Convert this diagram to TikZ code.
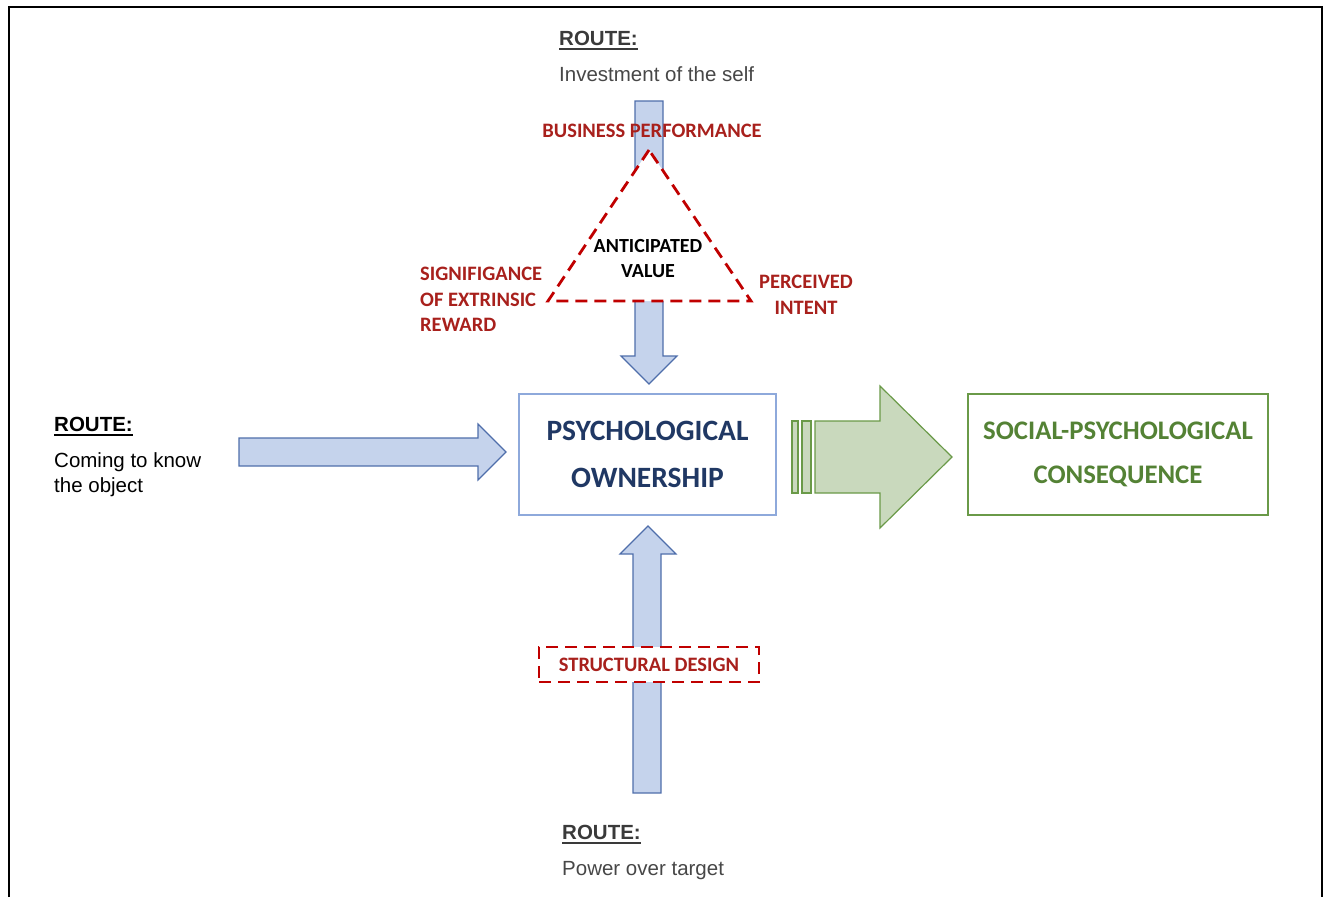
\documentclass[tikz,border=0pt]{standalone}
\usepackage{fontspec}
\setmainfont{Carlito}
\newfontfamily\arialf{Liberation Sans}
\definecolor{arrowfill}{HTML}{C5D3EC}
\definecolor{arrowline}{HTML}{4F6EAB}
\definecolor{boxblue}{HTML}{8EA9DB}
\definecolor{navy}{HTML}{203864}
\definecolor{redtxt}{HTML}{A8201C}
\definecolor{reddash}{HTML}{C00000}
\definecolor{greentxt}{HTML}{548235}
\definecolor{greenline}{HTML}{6A9A48}
\definecolor{greenfill}{HTML}{C9D9BD}
\definecolor{routegray}{HTML}{3A3A3A}
\begin{document}
\begin{tikzpicture}[x=1pt,y=-1pt,
  routehd/.style={font=\arialf\bfseries\fontsize{20.5}{24}\selectfont, anchor=base west, inner sep=0pt},
  routetx/.style={font=\arialf\fontsize{20.5}{25}\selectfont, anchor=base west, inner sep=0pt},
  redlbl/.style={font=\bfseries\fontsize{20.5}{25.5}\selectfont, text=redtxt, inner sep=0pt},
  blockarrow/.style={fill=arrowfill, draw=arrowline, line width=1.2pt, line join=miter},
  greenarrow/.style={fill=greenfill, draw=greenline, line width=1.2pt, line join=miter},
  reddashed/.style={draw=reddash, line width=2.8pt, dash pattern=on 12pt off 7pt},
  ulinestyle/.style={line width=1.8pt}
]
\useasboundingbox (0,0) rectangle (1325,897);
% frame
\draw[line width=2.2pt, black] (9,897) -- (9,7) -- (1322,7) -- (1322,897);

% top route
\node[routehd, text=routegray] (rt) at (559,45) {ROUTE:};
\draw[ulinestyle, routegray] ([yshift=-4pt]rt.base west) -- ([yshift=-4pt]rt.base east);
\node[routetx, text=black!72] (rti) at (559,81) {Investment of the self};

% left route
\node[routehd] (rl) at (54,431) {ROUTE:};
\draw[ulinestyle] ([yshift=-4pt]rl.base west) -- ([yshift=-4pt]rl.base east);
\node[routetx] (rli1) at (54,467) {Coming to know};
\node[routetx] (rli2) at (54,492) {the object};

% bottom route
\node[routehd, text=routegray] (rb) at (562,839) {ROUTE:};
\draw[ulinestyle, routegray] ([yshift=-4pt]rb.base west) -- ([yshift=-4pt]rb.base east);
\node[routetx, text=black!72] (rbi) at (562,875) {Power over target};

% top down arrow
\draw[blockarrow] (635,101) -- (663,101) -- (663,356) -- (677,356) -- (649,384) -- (621,356) -- (635,356) -- cycle;
% triangle
\coordinate (apex) at (649,150);
\coordinate (bl) at (548,301);
\coordinate (br) at (751,301);
\filldraw[fill=white, reddashed] (apex) -- (bl) -- (br) -- cycle;
\node[redlbl] (bp) at (652,131) {BUSINESS PERFORMANCE};
\node[font=\bfseries\fontsize{20}{25}\selectfont, align=center, inner sep=0pt] (av) at (648,259) {ANTICIPATED\\VALUE};
\node[redlbl, align=left, anchor=north west] (sig) at (420,267) {SIGNIFIGANCE\\OF EXTRINSIC\\REWARD};
\node[redlbl, align=center] (pi) at (806,295) {PERCEIVED\\INTENT};

% left arrow
\draw[blockarrow] (239,438) -- (478,438) -- (478,424) -- (506,452) -- (478,480) -- (478,466) -- (239,466) -- cycle;

% bottom up arrow
\draw[blockarrow] (633,793) -- (633,554) -- (620,554) -- (648,526) -- (676,554) -- (661,554) -- (661,793) -- cycle;
\node[reddashed, fill=white, minimum width=220pt, minimum height=35pt, inner sep=0pt, font=\bfseries\fontsize{20.5}{24}\selectfont, text=redtxt] (sd) at (649,664.5) {STRUCTURAL DESIGN};

% psychological ownership box
\node[draw=boxblue, line width=1.3pt, fill=white, minimum width=257pt, minimum height=121pt, inner sep=0pt, align=center, font=\bfseries\fontsize{29.5}{47}\selectfont, text=navy] (po) at (647.5,454.5) {PSYCHOLOGICAL\\OWNERSHIP};

% green striped arrow
\draw[greenarrow] (792,421) rectangle (798,493);
\draw[greenarrow] (802,421) rectangle (811,493);
\draw[greenarrow] (815,421) -- (880,421) -- (880,386) -- (952,457) -- (880,528) -- (880,493) -- (815,493) -- cycle;

% social-psychological consequence box
\node[draw=greenline, line width=1.3pt, minimum width=300pt, minimum height=121pt, inner sep=0pt, align=center, font=\bfseries\fontsize{26.8}{44}\selectfont, text=greentxt] (spc) at (1118,454.5) {SOCIAL-PSYCHOLOGICAL\\CONSEQUENCE};
\end{tikzpicture}
\end{document}
